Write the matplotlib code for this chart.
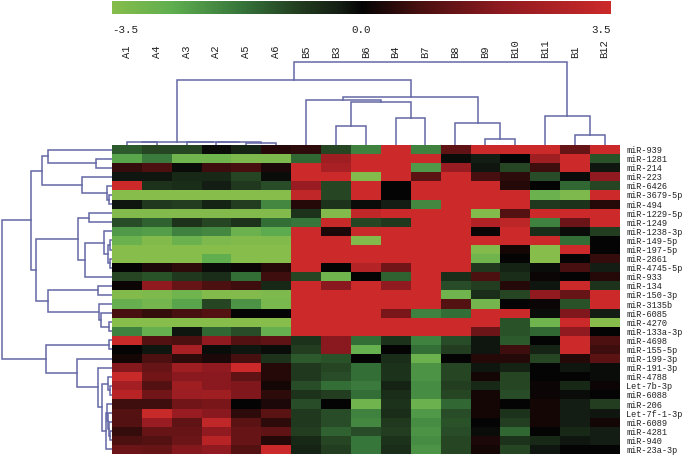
import matplotlib
matplotlib.use("Agg")
import matplotlib.pyplot as plt
from matplotlib.colors import LinearSegmentedColormap
import numpy as np

W, H = 685, 457

columns = ["A1", "A4", "A3", "A2", "A5", "A6", "B5", "B3", "B6", "B4", "B7",
           "B8", "B9", "B10", "B11", "B1", "B12"]
rows = ["miR-939", "miR-1281", "miR-214", "miR-223", "miR-6426", "miR-3679-5p",
        "miR-494", "miR-1229-5p", "miR-1249", "miR-1238-3p", "miR-149-5p",
        "miR-197-5p", "miR-2861", "miR-4745-5p", "miR-933", "miR-134",
        "miR-150-3p", "miR-3135b", "miR-6085", "miR-4270", "miR-133a-3p",
        "miR-4698", "miR-155-5p", "miR-199-3p", "miR-191-3p", "miR-4788",
        "Let-7b-3p", "miR-6088", "miR-206", "Let-7f-1-3p", "miR-6089",
        "miR-4281", "miR-940", "miR-23a-3p"]

values = [
    [-1.3, -1.0, -1.0, -0.1, -0.4, 0.4, 0.5, -1.0, -1.9, 3.5, -1.9, 1.2, 3.5, 3.5, 3.5, 1.3, 3.5],
    [-2.5, -1.8, -3.0, -3.0, -3.3, -3.3, -1.5, 2.4, 3.5, 3.5, 3.5, -0.1, -0.3, 0.0, 2.4, 3.5, -1.2],
    [0.6, 0.9, -0.1, 0.7, 0.8, 0.3, 3.5, 2.6, 3.5, 3.5, -2.3, 2.2, -0.2, -1.0, 0.7, 3.5, -0.2],
    [-0.2, -0.2, -0.5, -0.5, -1.0, -0.1, 3.5, 3.5, -3.4, 3.5, 1.1, 3.5, 0.8, 0.5, -1.1, -0.1, 2.0],
    [3.5, -0.7, -0.6, -0.3, -0.8, -1.1, 2.2, -1.0, 3.5, 0.0, 3.5, 3.5, 3.5, 0.4, 0.0, -1.5, -1.0],
    [-3.5, -3.5, -3.5, -3.5, -3.5, -3.5, 3.2, -1.0, 3.5, 0.0, 3.5, 3.5, 3.5, 3.5, -2.9, -3.3, 3.5],
    [-0.2, -0.8, -0.9, -0.4, -0.9, -2.0, 0.4, -0.7, -0.1, -0.3, -2.0, 3.5, 3.5, 3.5, -0.8, -0.7, 0.4],
    [-3.4, -3.4, -3.4, -3.4, -3.4, -3.4, -0.7, -3.4, 3.2, 3.5, 3.5, 3.5, -3.4, 1.0, 3.5, 3.5, 3.5],
    [-1.1, -1.4, -0.7, -1.0, -0.7, -1.6, -1.7, 3.4, -1.0, -0.8, 3.5, 3.5, 2.8, 3.1, -1.9, 1.4, 3.5],
    [-2.3, -2.4, -1.9, -2.0, -2.9, -2.6, 3.5, 0.3, 3.4, 3.5, 3.5, 3.5, 0.1, 3.5, -0.6, -0.1, -0.9],
    [-2.9, -3.4, -2.9, -3.3, -3.4, -3.4, 3.5, 3.5, -3.4, 3.5, 3.5, 3.5, 3.5, 3.5, 3.5, -1.6, 0.0],
    [-3.5, -3.5, -3.5, -3.5, -3.5, -3.5, 3.5, 3.5, 3.5, 3.5, 3.5, 3.5, -3.4, 0.2, -3.5, 3.5, 0.0],
    [-3.5, -3.5, -3.5, -2.7, -3.5, -3.5, 3.5, 3.5, 3.5, 3.5, 3.5, 3.5, -3.0, 0.0, -3.5, 0.0, 0.6],
    [0.0, 0.3, 0.5, -0.1, 0.1, 0.4, 3.5, 0.0, 2.9, 1.5, 3.5, 3.5, -0.8, -0.4, -0.1, 0.8, -0.3],
    [-1.0, -1.2, -0.8, -0.6, -1.6, 0.7, -1.0, -3.0, 0.0, -1.4, 3.5, -0.6, 0.9, -0.6, 0.1, 0.0, 0.4],
    [0.1, 2.0, 1.3, 0.9, 0.7, -0.5, 3.5, 1.9, 3.5, 2.0, 3.5, -1.1, -0.9, 0.4, -0.2, 3.5, -0.7],
    [-3.4, -3.3, -3.0, -3.4, -3.4, -3.3, 3.5, 3.5, 3.5, 3.5, 3.5, -3.0, -0.6, -1.0, 2.0, 1.3, 3.5],
    [-2.8, -3.1, -2.5, -1.0, -2.2, -3.2, 3.5, 3.5, 3.5, 3.5, 3.5, 1.0, -3.1, 0.0, 0.1, -1.2, 3.5],
    [0.8, 0.6, 0.8, 1.0, 0.0, 0.0, 3.5, 3.5, 3.5, 1.6, -1.9, -1.6, 3.5, 3.5, -0.1, 1.7, -0.3],
    [-3.5, -3.5, -3.5, -3.5, -3.5, -3.5, 3.5, 3.5, 3.5, 3.5, 3.5, 3.5, 3.5, -1.2, -3.0, 3.5, -3.5],
    [-1.9, -2.8, -0.2, -1.5, -1.1, -2.8, 3.5, 3.5, 3.5, 3.5, 3.5, 3.5, 1.4, -1.2, -1.5, 2.0, 0.0],
    [3.4, 1.0, 0.9, 2.0, 1.0, 1.2, -0.7, 1.9, -1.6, -0.7, -1.9, -1.1, -0.2, -1.3, 0.0, 3.5, 0.9],
    [0.0, -0.2, 2.6, -0.1, -0.2, -0.1, -0.9, 1.9, -2.8, 0.0, -1.6, -0.9, -0.2, 0.7, -0.4, 3.5, 0.7],
    [0.2, 0.9, 0.5, 0.3, 0.8, -0.7, -1.3, -1.2, 0.0, -0.6, -2.9, 0.0, 0.4, 0.4, -1.0, 0.4, 1.1],
    [1.8, 1.3, 2.4, 2.0, 3.5, 0.4, -0.8, -1.0, -1.6, -0.7, -2.2, -1.0, -0.2, -0.4, 0.0, -0.2, -0.1],
    [3.4, 1.5, 1.9, 1.9, 1.2, 0.4, -0.8, -1.1, -1.6, -0.7, -2.2, -1.0, 0.2, -1.0, 0.0, 0.0, -0.1],
    [2.5, 1.0, 2.4, 1.9, 1.7, 0.2, -1.1, -1.6, -1.8, -0.4, -2.1, -0.9, -0.5, -1.0, 0.1, -0.5, 0.1],
    [3.0, 1.5, 2.3, 2.4, 1.7, 0.5, -0.7, -0.9, -1.6, -0.6, -2.1, -1.0, 0.2, -1.1, 0.1, -0.1, 0.0],
    [0.7, 0.7, 1.5, 1.6, 0.0, 0.3, -1.1, 0.0, -3.0, -0.7, -2.9, -1.5, 0.2, 0.0, 0.2, -0.3, -0.9],
    [1.0, 3.4, 2.2, 1.9, 0.5, 1.1, -0.8, -1.1, -1.9, -0.6, -2.3, -1.1, 0.2, -0.7, 0.2, -0.3, -0.2],
    [1.0, 2.2, 1.2, 3.2, 1.1, 0.5, -0.8, -1.1, -2.0, -0.8, -2.1, -1.2, 0.0, -0.9, 0.2, -0.3, 0.2],
    [0.6, 1.3, 1.3, 2.0, 1.3, 1.2, -0.9, -1.4, -1.1, -0.9, -2.2, -1.1, -0.1, -1.5, 0.0, -0.5, -0.3],
    [0.9, 1.0, 1.4, 3.0, 1.3, 0.4, -0.5, -1.0, -1.7, -0.7, -2.1, -1.0, 0.3, -0.7, -0.5, -0.2, -0.3],
    [1.4, 1.3, 1.8, 2.0, 1.0, 3.5, -0.4, -0.9, -1.7, -0.6, -2.2, -1.0, 0.2, -1.0, -0.2, 0.0, 0.0],
]

# trees are (left, right, height), a plain int is a leaf index
col_tree = (
    (((0, 1, 2.7), (2, (3, (4, 5, 2.4), 2.6), 2.8), 3.0),
     ((6, ((7, 8, 19), (9, 10, 27.3), 42.7), 45.3),
      (11, (12, 13, 6), 22), 47.7), 65.3),
    (14, (15, 16, 10), 29), 82.7)

row_tree = (
    (((0, (1, 2, 16), 64.3), (3, (4, (5, 6, 3), 5), 30.3), 70.3),
     (((7, 8, 22.7),
       ((9, ((10, 11, 2), (12, 13, 2), 4), 8), 14, 27), 33.7),
      ((15, 16, 14.3), (17, (18, (19, 20, 3), 11), 13.3), 64.3), 76), 80.7),
    ((21, 22, 3),
     (23, (24, ((25, (26, 27, 2), 4),
                ((28, (29, (30, (31, 32, 2), 3), 4), 5), 33, 6), 10), 13.7), 34.7),
     66.3), 110.3)

cmap_colors = [(0.0, "#86bd4b"), (0.12, "#5fae50"), (0.26, "#36743a"),
               (0.38, "#213a1e"), (0.46, "#131d13"), (0.5, "#040404"),
               (0.62, "#4a1010"), (0.78, "#8e1a20"), (1.0, "#cc2a2a")]
line_color = "#6468a6"
font = ["Liberation Mono", "DejaVu Sans Mono"]


def add_axes_px(fig, left, top, right, bottom):
    return fig.add_axes([left / W, 1 - bottom / H, (right - left) / W, (bottom - top) / H])


def draw_tree(ax, node, horizontal):
    # returns (leaf position, height) of the node so the parent can link to it
    if isinstance(node, int):
        return node, 0
    a_pos, a_h = draw_tree(ax, node[0], horizontal)
    b_pos, b_h = draw_tree(ax, node[1], horizontal)
    h = node[2]
    pos = [a_pos, a_pos, b_pos, b_pos]
    hgt = [a_h, h, h, b_h]
    if horizontal:
        ax.plot(hgt, pos, color=line_color, lw=1.1, solid_joinstyle="miter")
    else:
        ax.plot(pos, hgt, color=line_color, lw=1.1, solid_joinstyle="miter")
    return (a_pos + b_pos) / 2, h


fig = plt.figure(figsize=(W / 100, H / 100), dpi=100)
cmap = LinearSegmentedColormap.from_list("gbr", cmap_colors)

# colour bar
cax = add_axes_px(fig, 112, 1, 611, 14)
cax.imshow(np.linspace(-3.5, 3.5, 256)[None, :], cmap=cmap, aspect="auto", vmin=-3.5, vmax=3.5)
cax.axis("off")
for txt, x, ha in [("-3.5", 112, "left"), ("0.0", 361.5, "center"), ("3.5", 611, "right")]:
    fig.text(x / W, 1 - 30 / H, txt, ha=ha, va="center", family=font, fontsize=7.8, color="#222222")

# heat map
ax = add_axes_px(fig, 112, 145, 619.5, 454)
ax.imshow(np.array(values), cmap=cmap, vmin=-3.5, vmax=3.5, aspect="auto", interpolation="nearest")
ax.set_xticks([])
ax.yaxis.tick_right()
ax.set_yticks(np.arange(len(rows)), rows, family=font, fontsize=6.2, color="#222222")
ax.tick_params(axis="y", length=0, pad=5)
for s in ax.spines.values():
    s.set_visible(False)

# column dendrogram, column labels sit on its top axis
top = add_axes_px(fig, 112, 60, 619.5, 145)
draw_tree(top, col_tree, horizontal=False)
top.set_xlim(-0.5, len(columns) - 0.5)
top.set_ylim(0, 85)
top.xaxis.tick_top()
top.set_xticks(np.arange(len(columns)), columns, rotation=90, family=font, fontsize=7.6, color="#222222")
top.set_yticks([])
top.tick_params(axis="x", length=0, pad=1.5)
for s in top.spines.values():
    s.set_visible(False)
top.patch.set_alpha(0)

# row dendrogram
left = add_axes_px(fig, 0, 145, 112, 454)
draw_tree(left, row_tree, horizontal=True)
left.set_xlim(112, 0)
left.set_ylim(len(rows) - 0.5, -0.5)
left.axis("off")

fig.savefig("out.png", dpi=100)
